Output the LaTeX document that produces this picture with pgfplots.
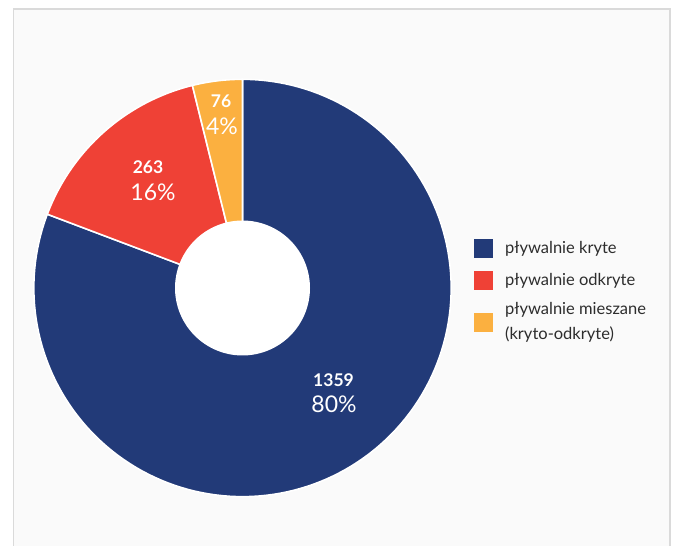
\documentclass[border=0pt]{standalone}
\usepackage{pgfplots}
\pgfplotsset{compat=1.18}
\usepackage{fontspec}
\setmainfont{Lato}
\definecolor{cBlue}{RGB}{34,58,120}
\definecolor{cRed}{RGB}{239,65,54}
\definecolor{cOrange}{RGB}{251,176,64}
\definecolor{frameGray}{RGB}{218,218,218}
\definecolor{bgGray}{RGB}{250,250,250}
\definecolor{legText}{RGB}{45,45,45}
\begin{document}
\begin{tikzpicture}
% slice shares as drawn in the picture (percent of the circle)
\pgfmathsetmacro\sA{80.75}
\pgfmathsetmacro\sB{15.39}
\pgfmathsetmacro\sC{3.86}
\pgfmathsetmacro\aA{90}
\pgfmathsetmacro\aB{90-3.6*\sA}
\pgfmathsetmacro\aC{\aB-3.6*\sB}
\pgfmathsetmacro\aD{\aC-3.6*\sC}
\def\cx{242.5}\def\cy{258}\def\ro{208.7}\def\ri{67.5}
\begin{axis}[
  x=1pt, y=1pt, xmin=0, xmax=673, ymin=0, ymax=546,
  hide axis, scale only axis,
  legend style={at={(axis cs:474,307.5)}, anchor=north west, draw=none, fill=none,
    inner sep=0pt, font=\fontsize{16.5}{20}\selectfont, text=legText,
    row sep=13pt, column sep=12pt, nodes={inner sep=0pt, align=left}},
  legend cell align=left,
  legend image code/.code={\fill[#1, draw=none] (0pt,-9.5pt) rectangle (19pt,9.5pt);},
]
\fill[white] (axis cs:0,0) rectangle (axis cs:673,546);
\filldraw[fill=bgGray, draw=frameGray, line width=1.5pt] (axis cs:13.5,-10) rectangle (axis cs:670,537);

\addplot[forget plot, fill=cBlue, draw=white, line width=1.6pt, domain=\aB:\aA, samples=150, variable=\t]
  ({\cx+\ro*cos(\t)},{\cy+\ro*sin(\t)}) -- (axis cs:\cx,\cy) -- cycle;
\addplot[forget plot, fill=cRed, draw=white, line width=1.6pt, domain=\aC:\aB, samples=60, variable=\t]
  ({\cx+\ro*cos(\t)},{\cy+\ro*sin(\t)}) -- (axis cs:\cx,\cy) -- cycle;
\addplot[forget plot, fill=cOrange, draw=white, line width=1.6pt, domain=\aD:\aC, samples=30, variable=\t]
  ({\cx+\ro*cos(\t)},{\cy+\ro*sin(\t)}) -- (axis cs:\cx,\cy) -- cycle;
\addplot[forget plot, fill=white, draw=none, domain=0:360, samples=120, variable=\t]
  ({\cx+\ri*cos(\t)},{\cy+\ri*sin(\t)}) -- cycle;

\node[white, font=\fontsize{17.5}{20}\selectfont\bfseries] at (axis cs:333.5,166) {1359};
\node[white, font=\fontsize{23}{26}\selectfont] at (axis cs:334,142) {80\%};
\node[white, font=\fontsize{17.5}{20}\selectfont\bfseries] at (axis cs:148,379) {263};
\node[white, font=\fontsize{23}{26}\selectfont] at (axis cs:153,354) {16\%};
\node[white, font=\fontsize{17.5}{20}\selectfont\bfseries] at (axis cs:221,445) {76};
\node[white, font=\fontsize{23}{26}\selectfont] at (axis cs:222,420) {4\%};

\addlegendimage{fill=cBlue}
\addlegendentry{pływalnie kryte}
\addlegendimage{fill=cRed}
\addlegendentry{pływalnie odkryte}
\addlegendimage{fill=cOrange}
\addlegendentry{pływalnie mieszane\\[5pt](kryto-odkryte)}
\end{axis}
\end{tikzpicture}
\end{document}
